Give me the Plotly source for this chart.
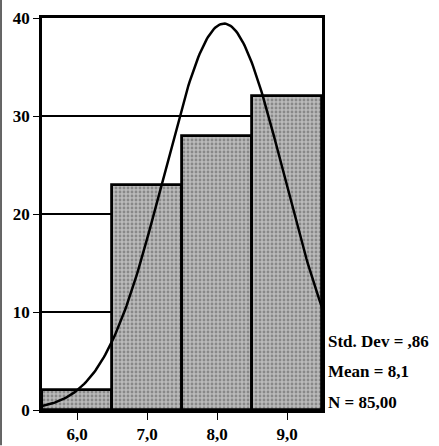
import numpy as np
import plotly.graph_objects as go

# Histogram bins (centres) and counts
bin_centers = [6.0, 7.0, 8.0, 9.0]
counts = [2, 23, 28, 32]

# Summary statistics shown beside the plot
std_dev = 0.86
mean = 8.1
n_cases = 85.0
bin_width = 1.0

x_ticks = [6.0, 7.0, 8.0, 9.0]
y_ticks = [0, 10, 20, 30, 40]

# Normal curve scaled to the histogram counts
xs = np.linspace(5.5, 9.5, 200)
ys = n_cases * bin_width / (std_dev * np.sqrt(2 * np.pi)) * np.exp(-0.5 * ((xs - mean) / std_dev) ** 2)

serif = "Liberation Serif"

fig = go.Figure()
fig.add_trace(go.Bar(
    x=bin_centers, y=counts, width=bin_width,
    marker=dict(
        color="#b0b0b0",
        line=dict(color="black", width=2.8),
        pattern=dict(shape=".", fgcolor="#555555", bgcolor="#bababa", size=4, solidity=0.4),
    ),
    showlegend=False,
))
fig.add_trace(go.Scatter(
    x=xs, y=ys, mode="lines",
    line=dict(color="black", width=2.5),
    showlegend=False,
))

stats_lines = [
    (7.0, "Std. Dev = ,86"),
    (3.9, "Mean = 8,1"),
    (0.75, "N = 85,00"),
]
for yv, txt in stats_lines:
    fig.add_annotation(
        x=1.016, xref="paper", y=yv, yref="y", text="<b>" + txt + "</b>", showarrow=False,
        xanchor="left", yanchor="middle",
        font=dict(family=serif, size=17, color="black"),
    )

# thin dark edge line along the left border of the page
fig.add_shape(
    type="line", xref="paper", yref="paper",
    x0=-0.1464, x1=-0.1464, y0=-0.09, y1=1.05,
    line=dict(color="#333333", width=1.5),
)

fig.update_layout(
    width=439, height=446,
    margin=dict(l=42, r=117, t=18, b=36, autoexpand=False),
    paper_bgcolor="white", plot_bgcolor="white",
    separators=",.",
    bargap=0,
    xaxis=dict(
        range=[5.5, 9.5], tickvals=x_ticks, tickformat=".1f",
        showgrid=False, zeroline=False, automargin=False,
        showline=True, linecolor="black", linewidth=2.8, mirror=True,
        ticks="outside", ticklen=7, tickcolor="black", tickwidth=1,
        tickfont=dict(family=serif, size=17, color="black", weight="bold"),
    ),
    yaxis=dict(
        range=[0, 40], tickvals=y_ticks,
        showgrid=True, gridcolor="black", gridwidth=2,
        zeroline=False, automargin=False,
        showline=True, linecolor="black", linewidth=2.8, mirror=True,
        ticks="outside", ticklen=6, tickcolor="black", tickwidth=1,
        tickfont=dict(family=serif, size=17, color="black", weight="bold"),
    ),
)

fig.write_html("out.html")
